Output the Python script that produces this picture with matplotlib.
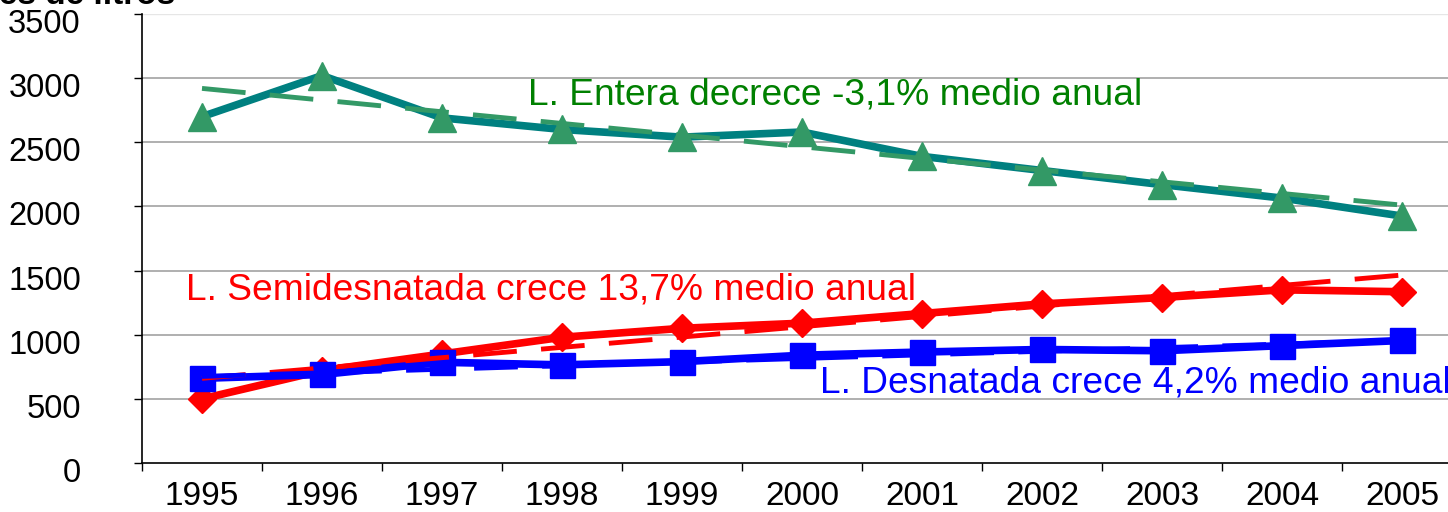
import matplotlib
matplotlib.use("Agg")
import matplotlib.pyplot as plt
from matplotlib.transforms import ScaledTranslation

plt.rcParams['font.family'] = ['Liberation Sans', 'DejaVu Sans']

years = ['1995', '1996', '1997', '1998', '1999', '2000', '2001', '2002', '2003', '2004', '2005']
entera = [2700, 3020, 2690, 2600, 2540, 2580, 2390, 2280, 2170, 2065, 1925]
semidesnatada = [500, 720, 850, 980, 1050, 1090, 1165, 1240, 1290, 1350, 1335]
desnatada = [660, 690, 785, 765, 790, 840, 865, 885, 875, 915, 955]

# trend lines (straight): values at first and last year
entera_trend = [2920, 2010]
semi_trend = [660, 1465]
desn_trend = [675, 955]

y_ticks = [0, 500, 1000, 1500, 2000, 2500, 3000, 3500]
y_title = 'Millones de litros'
label_entera = 'L. Entera decrece -3,1% medio anual'
label_semi = 'L. Semidesnatada crece 13,7% medio anual'
label_desn = 'L. Desnatada crece 4,2% medio anual'

W, H = 1448, 512
fig = plt.figure(figsize=(W / 100, H / 100), dpi=100)
ax = fig.add_axes([142 / W, 49 / H, 1320 / W, 449 / H])

x = list(range(len(years)))
ends = [x[0], x[-1]]

ax.plot(x, entera, color='#008080', lw=5.5, marker='^', ms=20,
        mfc='#339966', mec='#339966', zorder=3)
ax.plot(x, semidesnatada, color='#FF0000', lw=5.5, marker='D', ms=14,
        mfc='#FF0000', mec='#FF0000', zorder=3)
ax.plot(x, desnatada, color='#0000FF', lw=5.5, marker='s', ms=18,
        mfc='#0000FF', mec='#0000FF', zorder=3)

ax.plot(ends, entera_trend, color='#339966', lw=3.5, dashes=(9, 5), zorder=4)
ax.plot(ends, semi_trend, color='#FF0000', lw=3.5, dashes=(9, 5), zorder=4)
ax.plot(ends, desn_trend, color='#0000FF', lw=3.5, dashes=(9, 5), zorder=4)

ax.set_xlim(-0.5, len(years) - 0.5)
ax.set_ylim(0, 3500)
ax.set_yticks(y_ticks)
ax.set_yticklabels([str(v) for v in y_ticks], fontsize=23.5)
for v in y_ticks[1:-1]:
    ax.axhline(v, color='#9a9a9a', lw=1.1, zorder=1)
ax.axhline(3500, color='#e6e6e6', lw=1.0, zorder=1)

ax.set_xticks(x)
ax.set_xticklabels(years, fontsize=24)
ax.set_xticks([i - 0.5 for i in range(len(years) + 1)], minor=True)
ax.tick_params(axis='x', which='major', length=0, pad=13)
ax.tick_params(axis='x', which='minor', length=6, width=1, color='black')
ax.tick_params(axis='y', length=6, width=1, pad=38)

shift = ScaledTranslation(0, -7 / 100, fig.dpi_scale_trans)
for lab in ax.get_yticklabels():
    lab.set_transform(lab.get_transform() + shift)

for s in ['top', 'right']:
    ax.spines[s].set_visible(False)
for s in ['left', 'bottom']:
    ax.spines[s].set_color('black')
    ax.spines[s].set_linewidth(1.2)

ax.text(2.72, 2869, label_entera, color='#008000', fontsize=26.7, va='center', ha='left')
ax.text(-0.13, 1349, label_semi, color='#FF0000', fontsize=26.7, va='center', ha='left')
ax.text(5.15, 624, label_desn, color='#0000FF', fontsize=26.7, va='center', ha='left')

fig.text(175 / W, (H - 3.5) / H, y_title, fontsize=24, fontweight='bold',
         ha='right', va='baseline')

fig.savefig('out.png', dpi=100)
